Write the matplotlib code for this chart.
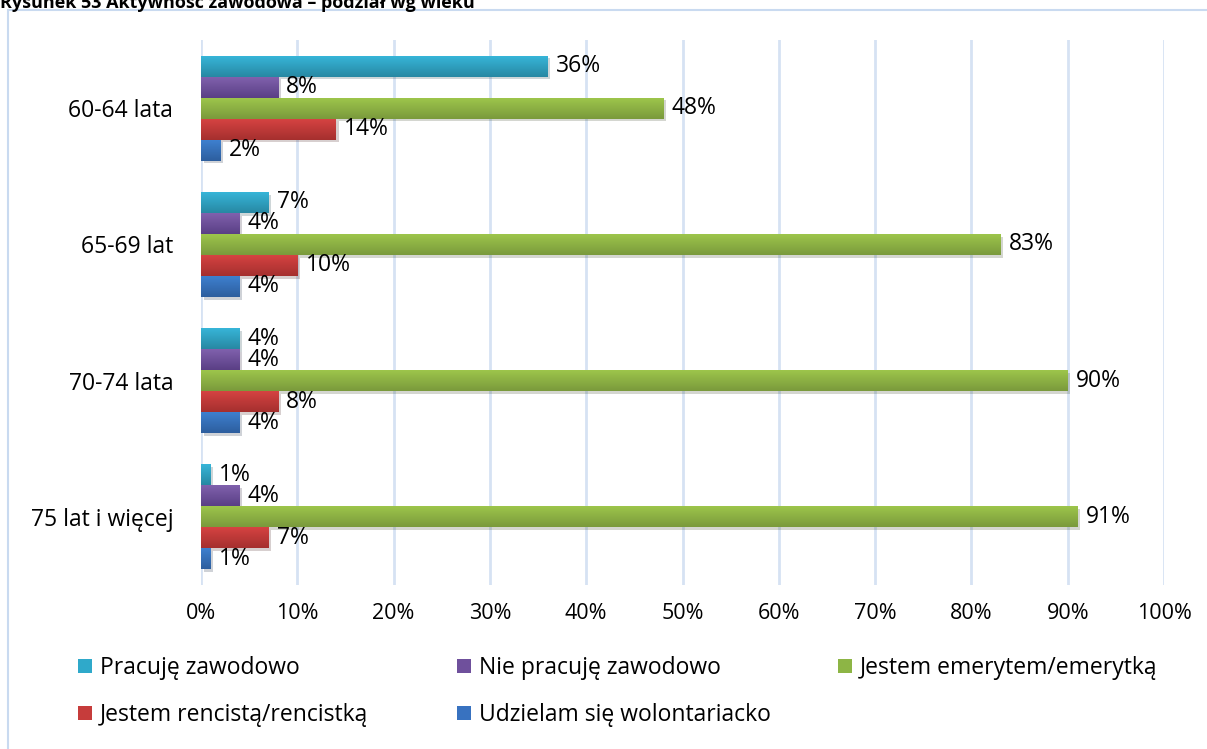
import matplotlib.pyplot as plt
import matplotlib.patheffects as pe
from matplotlib.patches import Rectangle, Patch
from matplotlib.colors import LinearSegmentedColormap
import numpy as np

plt.rcParams['font.family'] = ['Open Sans', 'DejaVu Sans']

groups = ["60-64 lata", "65-69 lat", "70-74 lata", "75 lat i więcej"]
series = ["Pracuję zawodowo", "Nie pracuję zawodowo", "Jestem emerytem/emerytką",
          "Jestem rencistą/rencistką", "Udzielam się wolontariacko"]
pracuje = [36, 7, 4, 1]
nie_pracuje = [8, 4, 4, 4]
emeryt = [48, 83, 90, 91]
rencista = [14, 10, 8, 7]
wolontariat = [2, 4, 4, 1]
xticks = list(range(0, 101, 10))

values = [pracuje, nie_pracuje, emeryt, rencista, wolontariat]
colors = ['#2FA9CA', '#6F509C', '#8DB545', '#C63C3B', '#3872C0']
tops = ['#37B5D8', '#8061AD', '#9DC54B', '#D54342', '#3E80CF']
bottoms = ['#2788A3', '#5A3F85', '#7A9A3C', '#A52F2E', '#2D5E9E']

fig = plt.figure(figsize=(12.07, 7.49), dpi=100)
ax = fig.add_axes([201 / 1207, 1 - 585 / 749, (1164 - 201) / 1207, (585 - 40) / 749])

# outer frame (light blue) and clipped title
fig.patches.append(Rectangle((8 / 1207, -0.05), 1.2, 1 - 10 / 749 + 0.05,
                             transform=fig.transFigure, fill=False,
                             edgecolor='#C9DAF0', linewidth=1.5))
fig.text(0.0, 1 - 8 / 749, "Rysunek 53 Aktywność zawodowa – podział wg wieku",
         fontsize=13, fontweight='bold', va='baseline', ha='left')

h = 0.154
ypos = np.arange(len(groups))[::-1]
shadow = [pe.SimplePatchShadow(offset=(2, -2), alpha=0.2), pe.Normal()]
grad = np.linspace(0, 1, 64).reshape(-1, 1)
handles = []
for i, (name, vals, col) in enumerate(zip(series, values, colors)):
    off = (2 - i) * h
    bars = ax.barh(ypos + off, vals, height=h, color=col, label=name, zorder=3)
    cmap = LinearSegmentedColormap.from_list(f"g{i}", [tops[i], bottoms[i]])
    for b, v in zip(bars, vals):
        b.set_path_effects(shadow)
        x0, y0, w, hh = b.get_x(), b.get_y(), b.get_width(), b.get_height()
        ax.imshow(grad, extent=[x0, x0 + w, y0, y0 + hh], origin='upper',
                  cmap=cmap, aspect='auto', zorder=3.5, interpolation='bilinear')
        ax.annotate(f"{v}%", (w, y0 + hh / 2),
                    xytext=(6, 0), textcoords='offset points',
                    va='center', ha='left', fontsize=16.5, zorder=4)
    handles.append(Patch(facecolor=col, label=name))

ax.set_xlim(0, 100)
ax.set_ylim(-0.5, 3.5)
ax.set_xticks(xticks)
ax.set_xticklabels([f"{t}%" for t in xticks], fontsize=15.5)
ax.set_yticks(ypos)
ax.set_yticklabels(groups, fontsize=16.5)
ax.tick_params(axis='both', length=0)
ax.tick_params(axis='y', pad=20)
ax.tick_params(axis='x', pad=13)
ax.grid(axis='x', color='#D6E2F3', linewidth=2, zorder=0)
for s in ax.spines.values():
    s.set_visible(False)

# legend entries placed like the original (row-major, fixed columns)
leg_pos = [(78, 668), (457, 668), (838, 668), (78, 715), (457, 715)]
for hnd, (lx, ly) in zip(handles, leg_pos):
    lg = fig.legend([hnd], [hnd.get_label()], loc='center left',
                    bbox_to_anchor=(lx / 1207, 1 - ly / 749), frameon=False,
                    fontsize=16.5, handlelength=0.6, handleheight=0.6,
                    handletextpad=0.35, borderpad=0, borderaxespad=0)

fig.savefig("out.png", dpi=100)
